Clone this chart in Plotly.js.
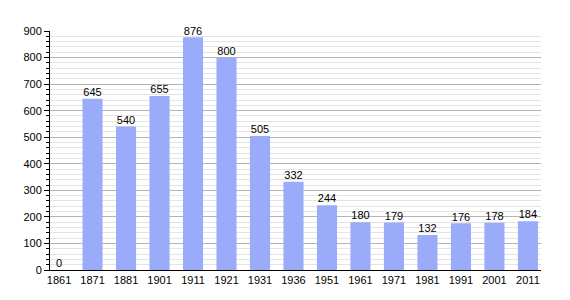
<!DOCTYPE html>
<html><head><meta charset="utf-8">
<script src="https://cdn.plot.ly/plotly-3.0.1.min.js"></script>
<style>html,body{margin:0;padding:0;background:#fff}</style>
</head><body>
<div id="chart" style="width:570px;height:300px"></div>
<script>
const years = ["1861","1871","1881","1901","1911","1921","1931","1936","1951","1961","1971","1981","1991","2001","2011"];
const population = [0,645,540,655,876,800,505,332,244,180,179,132,176,178,184];
const yTicks = [0,100,200,300,400,500,600,700,800,900];

const FONT = 'Liberation Sans, Arial, sans-serif';

Plotly.newPlot('chart', [{
  type: 'bar',
  x: years,
  y: population,
  marker: {color: '#9aabfa', line: {width: 0}},
  width: 0.6,
  hoverinfo: 'none'
}, {
  type: 'scatter',
  mode: 'text',
  x: years,
  y: population,
  text: population.map(String),
  textposition: 'top center',
  marker: {size: 1},
  cliponaxis: false,
  textfont: {family: FONT, size: 11, color: '#000'},
  hoverinfo: 'none'
}], {
  width: 570, height: 300,
  margin: {l: 50, r: 29, t: 31, b: 30},
  paper_bgcolor: '#fff', plot_bgcolor: '#fff',
  showlegend: false,
  font: {family: FONT, size: 11, color: '#000'},
  xaxis: {
    type: 'category',
    range: [-0.27, 14.39],
    showline: true, linecolor: '#000', linewidth: 1,
    ticks: '', showgrid: false, zeroline: false,
    tickfont: {family: FONT, size: 11, color: '#000'}
  },
  yaxis: {
    range: [0, 900],
    tickvals: yTicks,
    ticks: 'outside', ticklen: 5, tickcolor: '#000',
    showline: true, linecolor: '#000', linewidth: 1,
    showgrid: true, gridcolor: '#b4b4b4', gridwidth: 1,
    zeroline: false,
    minor: {dtick: 20, showgrid: true, gridcolor: '#e4e4e4', ticks: 'outside', ticklen: 3, tickcolor: '#000'},
    tickfont: {family: FONT, size: 11, color: '#000'}
  },
  bargap: 0.4
}, {staticPlot: true});
</script>
</body></html>
